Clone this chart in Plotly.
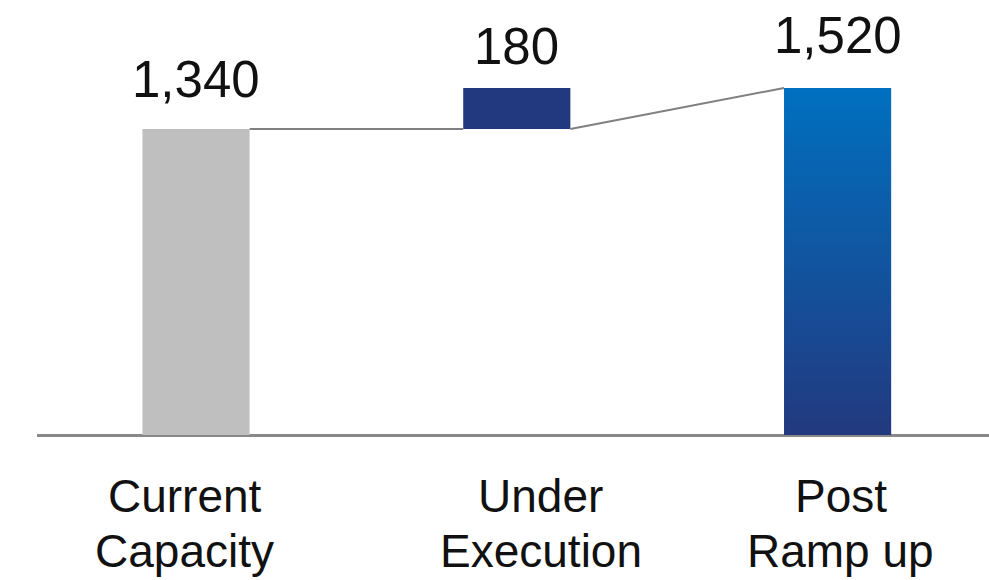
import plotly.graph_objects as go

categories = ["Current<br>Capacity", "Under<br>Execution", "Post<br>Ramp up"]
values = [1340, 180, 1520]
value_labels = ["1,340", "180", "1,520"]

# style / layout helpers (not data)
bar_width = 0.334
label_offsets = [-0.035, 0.075, 0.01]
label_yshift = [19, 11, 22]
line_yshifts = [-33, -88]
gray = "#BFBFBF"
navy = "#22397F"
blue_top = "#0070C0"
line_gray = "#808080"
font_family = "Liberation Sans, Arial, sans-serif"

x = list(range(len(categories)))
bases = [0, values[0], 0]
tops = [values[0], values[0] + values[1], values[2]]

fig = go.Figure()

fig.add_trace(go.Bar(x=[x[0]], y=[values[0]], base=[bases[0]], width=bar_width,
                     marker=dict(color=gray, line=dict(width=0)), hoverinfo="skip"))
fig.add_trace(go.Bar(x=[x[1]], y=[values[1]], base=[bases[1]], width=bar_width,
                     marker=dict(color=navy, line=dict(width=0)), hoverinfo="skip"))

h = bar_width / 2
fig.add_trace(go.Scatter(
    x=[x[2] - h, x[2] + h, x[2] + h, x[2] - h, x[2] - h],
    y=[bases[2], bases[2], tops[2], tops[2], bases[2]],
    mode="lines", line=dict(width=0), fill="toself",
    fillgradient=dict(type="vertical", colorscale=[[0, navy], [1, blue_top]]),
    hoverinfo="skip"))

fig.add_trace(go.Scatter(x=[x[0] + h, x[1] - h], y=[tops[0], bases[1]], mode="lines",
                         line=dict(color=line_gray, width=2), hoverinfo="skip"))
fig.add_trace(go.Scatter(x=[x[1] + h, x[2] - h], y=[bases[1], tops[2]], mode="lines",
                         line=dict(color=line_gray, width=2), hoverinfo="skip"))

for i in range(len(values)):
    fig.add_annotation(x=x[i], y=tops[i], text=value_labels[i], showarrow=False,
                       yanchor="bottom", yshift=label_yshift[i],
                       font=dict(size=51, color="#111111", family=font_family))

for i in range(len(categories)):
    for j, part in enumerate(categories[i].split("<br>")):
        fig.add_annotation(x=x[i] + label_offsets[i], y=0, text=part, showarrow=False,
                           yanchor="top", yshift=line_yshifts[j],
                           font=dict(size=46, color="#111111", family=font_family))

fig.update_layout(
    width=989, height=580,
    margin=dict(l=37, r=0, t=0, b=145),
    plot_bgcolor="white", paper_bgcolor="white",
    showlegend=False, barmode="overlay",
    xaxis=dict(range=[-0.4957, 2.472], showgrid=False, zeroline=False, showticklabels=False,
               showline=False, fixedrange=True),
    yaxis=dict(range=[0, 1905], showgrid=False, zeroline=True, zerolinecolor="#888888",
               zerolinewidth=3, showticklabels=False, showline=False, fixedrange=True),
)

fig.write_html("out.html", config={"displayModeBar": False},
               post_script="document.body.style.margin='0';")
